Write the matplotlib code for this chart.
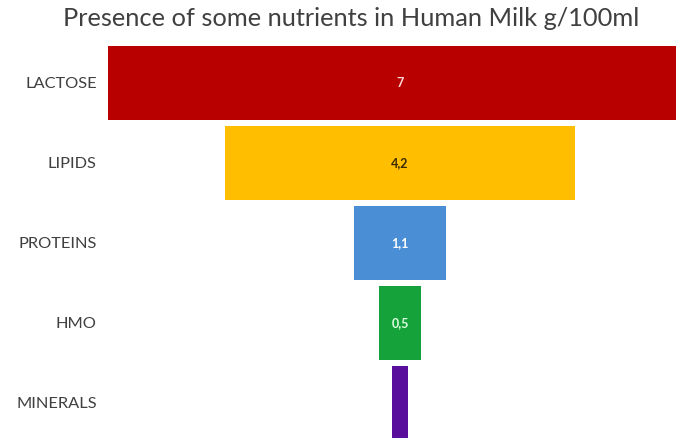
import matplotlib
matplotlib.use("Agg")
import matplotlib.pyplot as plt

categories = ["LACTOSE", "LIPIDS", "PROTEINS", "HMO", "MINERALS"]
values = [7, 4.2, 1.1, 0.5, 0.2]
value_labels = ["7", "4,2", "1,1", "0,5", ""]
colors = ["#B90000", "#FFBE00", "#4A8ED6", "#16A23A", "#5A0F9C"]
label_colors = ["#FFD9D9", "#3A2A00", "#FFFFFF", "#DFFFE0", "#FFFFFF"]

plt.rcParams['font.family'] = ['Lato', 'DejaVu Sans']

W, H = 676, 438
fig = plt.figure(figsize=(W / 100, H / 100), dpi=100)
# axes: left at 105px, right at 676px, top at 40px, bottom at 438px
ax = fig.add_axes([105 / W, 0, (W - 105) / W, (H - 40) / H])

ppu = 83.3  # pixels per unit
center_px = 400
ax.set_xlim((105 - center_px) / ppu, (W - center_px) / ppu)
ax.set_ylim(len(categories) - 1 + 35 / 80, -43 / 80)

ys = list(range(len(categories)))
ax.barh(ys, values, left=[-v / 2 for v in values], height=0.925, color=colors)
for y, v, t, c in zip(ys, values, value_labels, label_colors):
    if t:
        ax.text(0, y, t, ha="center", va="center", color=c, fontsize=9, fontweight="bold")

ax.set_yticks(ys)
ax.set_yticklabels(categories, fontsize=11.8, color="#404040")
ax.tick_params(axis="y", length=0, pad=6)
ax.set_xticks([])
for s in ax.spines.values():
    s.set_visible(False)

fig.text(351 / W, 1 - 19 / H, "Presence of some nutrients in Human Milk g/100ml",
         ha="center", va="center", fontsize=18.3, color="#404040")

fig.savefig("out.png", dpi=100)
